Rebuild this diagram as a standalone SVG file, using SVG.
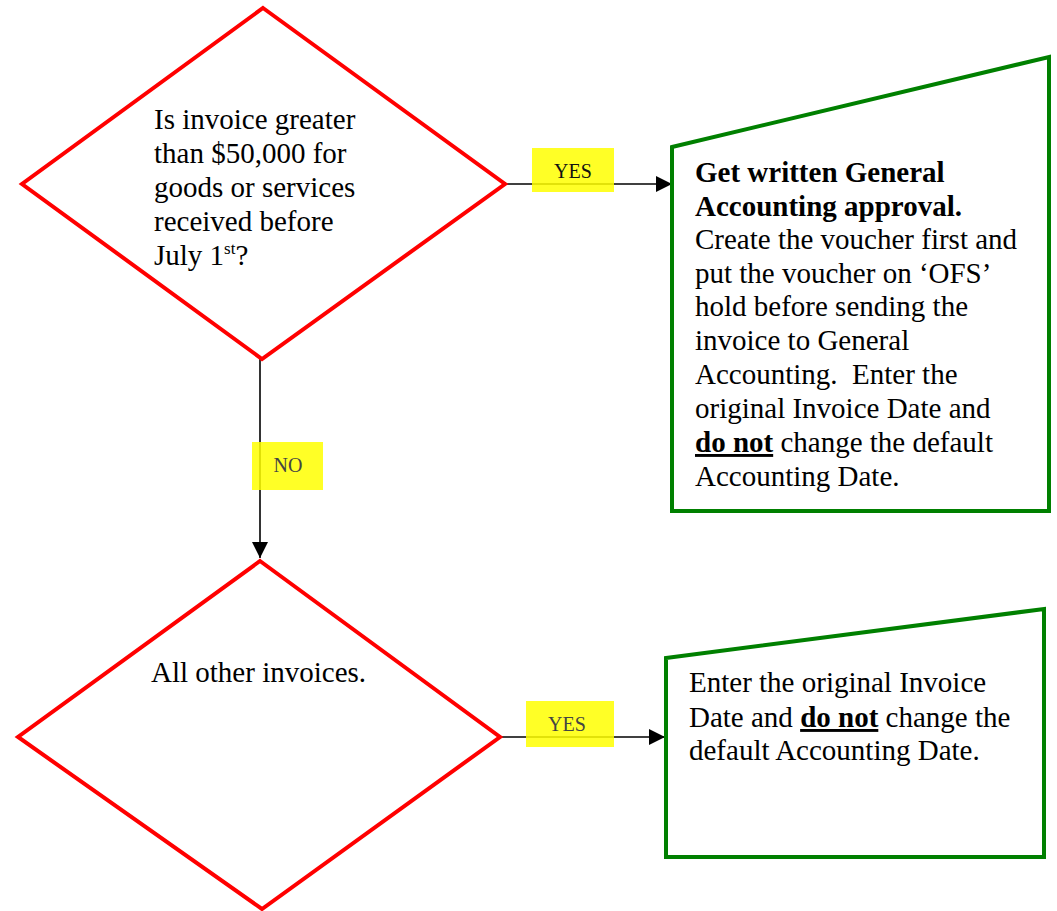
<svg xmlns="http://www.w3.org/2000/svg" width="1057" height="911" viewBox="0 0 1057 911">
<style>
.dec{fill:#fff;stroke:#ff0000;stroke-width:4;stroke-linejoin:miter}
.box{fill:#fff;stroke:#008000;stroke-width:4;stroke-linejoin:miter}
.t{font-family:"Liberation Serif","Times New Roman",serif;font-size:29px;fill:#000}
.b{font-weight:bold}
.u{text-decoration:underline}
.conn{stroke:#000;stroke-width:1.6;fill:none}
.lbl{fill:#ffff00;fill-opacity:0.85}
.lt{font-family:"Liberation Serif","Times New Roman",serif;font-size:20px;fill:#111;text-anchor:middle}
.lt2{font-family:"Liberation Serif","Times New Roman",serif;font-size:20px;fill:#444;text-anchor:middle}
</style>
<defs>
<marker id="arr" viewBox="0 0 10 10" refX="10" refY="5" markerWidth="16" markerHeight="16" markerUnits="userSpaceOnUse" orient="auto">
<path d="M0,0 L10,5 L0,10 Z" fill="#000"/>
</marker>
</defs>
<rect width="1057" height="911" fill="#fff"/>

<g id="connectors">
<line class="conn" x1="505" y1="184" x2="672" y2="184" marker-end="url(#arr)"/>
<line class="conn" x1="260" y1="359" x2="260" y2="558" marker-end="url(#arr)"/>
<line class="conn" x1="500" y1="737" x2="665" y2="737" marker-end="url(#arr)"/>
<g id="label-yes1">
<rect class="lbl" x="532" y="148" width="82" height="44"/>
<text class="lt" x="573" y="178">YES</text>
</g>
<g id="label-no">
<rect class="lbl" x="252" y="442" width="71" height="48"/>
<text class="lt2" x="288" y="472">NO</text>
</g>
<g id="label-yes2">
<rect class="lbl" x="526" y="701" width="88" height="46"/>
<text class="lt2" x="567" y="731">YES</text>
</g>
</g>

<g id="decision1">
<polygon class="dec" points="263,8 505,184 262,359 22,184"/>
<text class="t">
<tspan x="154" y="129">Is invoice greater</tspan>
<tspan x="154" y="163">than $50,000 for</tspan>
<tspan x="154" y="197">goods or services</tspan>
<tspan x="154" y="231">received before</tspan>
<tspan x="154" y="265">July 1<tspan font-size="17" dy="-11">st</tspan><tspan dy="11">?</tspan></tspan>
</text>
</g>

<g id="action1">
<polygon class="box" points="672,147 1049,57 1049,511 672,511"/>
<text class="t">
<tspan x="695" y="182" class="b">Get written General</tspan>
<tspan x="695" y="216" class="b">Accounting approval.</tspan>
<tspan x="695" y="249">Create the voucher first and</tspan>
<tspan x="695" y="283">put the voucher on ‘OFS’</tspan>
<tspan x="695" y="316">hold before sending the</tspan>
<tspan x="695" y="350">invoice to General</tspan>
<tspan x="695" y="384">Accounting.&#160; Enter the</tspan>
<tspan x="695" y="418">original Invoice Date and</tspan>
<tspan x="695" y="452"><tspan class="b u">do not</tspan> change the default</tspan>
<tspan x="695" y="486">Accounting Date.</tspan>
</text>
</g>

<g id="decision2">
<polygon class="dec" points="260,561 500,737 262,909 18,737"/>
<text class="t" x="151" y="682">All other invoices.</text>
</g>

<g id="action2">
<polygon class="box" points="666,658 1044,609 1044,857 666,857"/>
<text class="t">
<tspan x="689" y="692">Enter the original Invoice</tspan>
<tspan x="689" y="727">Date and <tspan class="b u">do not</tspan> change the</tspan>
<tspan x="689" y="760">default Accounting Date.</tspan>
</text>
</g>
</svg>
